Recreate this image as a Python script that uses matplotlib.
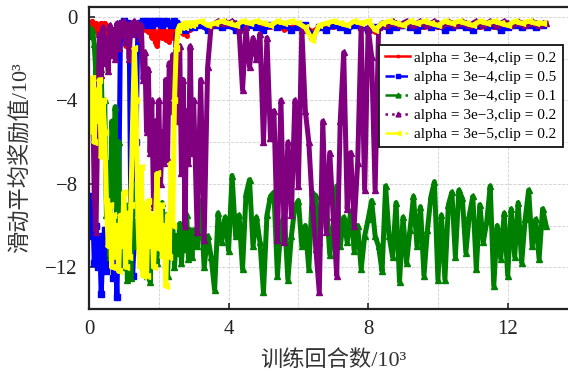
import numpy as np
import matplotlib
matplotlib.use("Agg")
import matplotlib.pyplot as plt
from matplotlib.lines import Line2D
from matplotlib.ticker import MultipleLocator

plt.rcParams['font.family'] = ['Liberation Serif', 'Noto Sans CJK SC']

# episodes in thousands: dense grid early, coarser grid later
x_early = np.arange(60) * 0.05          # 0 .. 2.95
x_late_fine = 3.0 + np.arange(102) * 0.1   # 3.0 .. 13.1
x_late_flat = 3.0 + np.arange(51) * 0.2    # 3.0 .. 13.0

# moving-average reward (x10^3)
red_early = [-0.3, -0.5, -0.2, -0.6, -0.3, -0.8, -0.4, -0.3, -0.6, -0.3,
             -0.5, -0.8, -0.5, -1.0, -0.7, -1.3, -0.6, -0.4, -0.8, -0.3,
             -0.9, -1.4, -0.5, -0.3, -0.6, -0.3, -0.5, -0.3, -0.7, -0.4,
             -0.5, -0.3, -0.6, -0.4, -0.7, -0.5, -1.0, -0.6, -1.2, -1.4,
             -0.8, -0.5, -1.0, -0.6, -1.1, -0.7, -1.2, -0.6, -1.0, -0.5,
             -0.8, -0.6, -0.5, -0.7, -0.8, -0.6, -0.9, -0.5, -0.6, -0.4]
red_late = [-0.5, -0.4, -0.6, -0.4, -0.5, -0.4, -0.5, -0.6, -0.4, -0.5,
            -0.4, -0.5, -0.4, -0.6, -0.5, -0.4, -0.5, -0.7, -0.5, -0.4,
            -0.5, -0.4, -0.5, -0.4, -0.5, -0.6, -0.7, -0.5, -0.4, -0.5,
            -0.4, -0.5, -0.4, -0.5, -0.4, -0.5, -0.4, -0.5, -0.4, -0.5,
            -0.4, -0.5, -0.4, -0.5, -0.4, -0.5, -0.4, -0.5, -0.4, -0.5, -0.4]

blue_early = [-9.0, -10.5, -8.6, -11.8, -10.0, -12.0, -10.5, -13.3, -11.0, -10.2,
              -12.2, -10.8, -11.5, -9.8, -12.5, -11.0, -13.4, -9.0, -0.9, -0.3,
              -0.2, -0.4, -0.3, -0.5, -9.8, -12.4, -10.5, -6.0, -0.4, -0.3,
              -0.3, -0.2, -0.4, -0.3, -0.2, -0.3, -0.4, -0.2, -0.3, -0.3,
              -0.2, -0.3, -0.4, -0.3, -0.2, -0.3, -0.3, -0.4, -0.3, -0.2,
              -0.3, -0.4, -0.5, -0.4, -0.5, -0.6, -0.5, -0.4, -0.5, -0.4]
blue_late = [-0.5, -0.4, -0.6, -0.4, -0.5, -0.4, -0.6, -0.5, -0.4, -0.5,
             -0.6, -0.4, -0.5, -0.4, -0.6, -0.5, -0.4, -0.9, -0.5, -0.6,
             -0.4, -0.5, -0.6, -0.4, -0.5, -0.6, -0.5, -0.4, -0.6, -0.5,
             -0.4, -0.5, -0.6, -0.4, -0.5, -0.4, -0.6, -0.5, -0.4, -0.5,
             -0.6, -0.4, -0.5, -0.4, -0.6, -0.5, -0.4, -0.5, -0.4, -0.5, -0.4]

green_early = [-0.5, -0.9, -0.6, -1.3, -2.8, -1.5, -4.5, -2.5, -6.5, -4.0,
               -9.5, -7.0, -11.5, -5.0, -9.0, -4.3, -10.0, -6.0, -11.8, -8.5,
               -12.0, -9.0, -12.6, -10.0, -12.5, -8.8, -11.0, -8.0, -10.5, -11.6,
               -9.0, -12.0, -10.0, -12.4, -9.5, -12.7, -10.5, -11.5, -9.8, -11.8,
               -10.0, -11.0, -8.9, -11.4, -9.5, -12.4, -10.2, -11.0, -9.9, -12.0,
               -10.5, -11.3, -9.9, -11.8, -10.3, -11.1, -9.5, -11.6, -10.2, -11.5]
green_late = [-10.2, -11.0, -8.8, -12.0, -10.5, -11.5, -13.1, -9.4, -10.8, -9.6,
              -11.2, -7.6, -10.5, -9.5, -12.1, -8.5, -7.8, -11.0, -9.6, -10.8,
              -13.2, -9.5, -8.6, -8.4, -12.4, -10.0, -9.5, -12.6, -10.5, -9.1,
              -8.8, -11.0, -10.0, -12.1, -8.4, -8.6, -10.8, -9.2, -8.8, -11.4,
              -10.0, -8.1, -11.0, -9.6, -10.8, -9.3, -11.2, -10.0, -12.1, -10.5,
              -9.7, -8.8, -10.5, -11.0, -12.2, -8.1, -10.5, -11.5, -8.9, -12.7,
              -9.6, -11.8, -10.2, -8.6, -11.0, -9.1, -12.4, -10.2, -8.6, -7.9,
              -12.6, -9.5, -12.6, -9.0, -8.4, -11.5, -8.3, -8.7, -11.3, -9.5,
              -8.6, -12.1, -9.0, -10.8, -9.8, -8.1, -12.9, -10.0, -11.6, -9.4,
              -12.4, -9.2, -11.5, -8.9, -11.8, -9.7, -8.3, -11.0, -9.7, -11.6,
              -9.2, -10.0]

purple_early = [-3.0, -4.2, -3.5, -8.5, -10.3, -5.0, -0.8, -2.8, -0.5, -2.2,
                -1.0, -2.6, -0.4, -1.8, -0.6, -2.0, -0.3, -1.5, -0.3, -0.8,
                -0.2, -1.2, -0.4, -2.0, -0.3, -0.8, -0.2, -0.6, -0.3, -1.0,
                -0.4, -3.0, -1.7, -5.5, -2.5, -6.5, -4.0, -9.1, -5.0, -7.5,
                -4.0, -8.0, -5.5, -7.0, -3.0, -6.8, -2.2, -4.5, -1.8, -3.0,
                -0.8, -5.0, -1.4, -7.5, -3.0, -10.0, -4.5, -7.0, -1.4, -6.5]
purple_late = [-4.0, -10.3, -3.0, -10.7, -2.4, -0.4, -0.3, -0.2, -0.3, -0.2,
               -0.3, -0.2, -0.3, -0.6, -3.5, -0.5, -2.4, -1.0, -2.0, -0.8,
               -6.0, -1.0, -5.8, -4.5, -10.7, -4.0, -10.8, -6.0, -9.5, -4.0,
               -8.1, -0.6, -4.5, -6.0, -9.0, -11.1, -13.2, -5.0, -10.3, -6.5,
               -9.6, -12.4, -5.0, -1.7, -9.2, -6.5, -10.0, -7.0, -0.5, -8.3,
               -0.5, -1.9, -8.3, -0.5, -0.3, -0.4, -0.3, -0.2, -0.3, -0.4,
               -0.3, -0.2, -0.3, -0.4, -0.3, -0.2, -0.3, -0.4, -0.3, -0.2,
               -0.3, -0.4, -0.3, -0.2, -0.3, -0.4, -0.3, -0.2, -0.3, -0.4,
               -0.3, -0.2, -0.3, -0.4, -0.3, -0.2, -0.3, -0.4, -0.3, -0.2,
               -0.3, -0.4, -0.3, -0.2, -0.3, -0.4, -0.3, -0.2, -0.3, -0.4,
               -0.3, -0.3]

yellow_early = [-3.3, -5.5, -2.9, -6.0, -3.5, -5.0, -3.0, -6.7, -4.0, -5.5,
                -8.8, -11.0, -9.0, -12.0, -9.5, -11.5, -10.0, -12.2, -9.5, -11.0,
                -8.4, -12.0, -9.4, -11.5, -9.0, -5.0, -1.5, -4.0, -9.6, -12.0,
                -7.2, -12.4, -9.0, -12.4, -8.8, -11.0, -9.5, -12.0, -10.0, -7.5,
                -11.1, -9.0, -11.5, -10.0, -12.9, -9.5, -11.5, -7.0, -10.0, -4.0,
                -1.5, -0.6, -0.4, -0.5, -0.3, -0.5, -0.3, -0.4, -0.3, -0.4]
yellow_late = [-0.3, -0.2, -0.4, -0.3, -0.2, -0.3, -0.4, -0.2, -0.3, -0.2,
               -0.3, -0.4, -0.2, -0.3, -0.2, -0.3, -0.5, -1.1, -0.4, -0.3,
               -0.2, -0.3, -0.4, -0.2, -0.3, -0.2, -0.6, -0.3, -0.2, -0.3,
               -0.4, -0.2, -0.3, -0.2, -0.3, -0.4, -0.2, -0.3, -0.2, -0.3,
               -0.4, -0.2, -0.3, -0.2, -0.3, -0.4, -0.2, -0.3, -0.2, -0.3, -0.3]

labels = ["alpha = 3e\u22124,clip = 0.2", "alpha = 3e\u22124,clip = 0.5",
          "alpha = 3e\u22124,clip = 0.1", "alpha = 3e\u22123,clip = 0.2",
          "alpha = 3e\u22125,clip = 0.2"]

fig = plt.figure(figsize=(5.68, 3.78), dpi=100)
ax = fig.add_axes([0.1567, 0.1825, 0.860, 0.800])

series = [
    (x_late_flat, red_early, red_late, 'red', '-', '.'),
    (x_late_flat, blue_early, blue_late, 'blue', '--', 's'),
    (x_late_fine, green_early, green_late, 'green', '-.', '^'),
    (x_late_fine, purple_early, purple_late, 'purple', ':', '^'),
    (x_late_flat, yellow_early, yellow_late, 'yellow', '-.', '<'),
]
handles = []
for (xl, ye, yl, c, ls, mk), lab in zip(series, labels):
    xs = np.concatenate([x_early, xl])
    ys = np.concatenate([ye, yl])
    # dense noisy traces: drawn thick so they read as bands
    ax.plot(xs, ys, color=c, linestyle='-', marker=mk, markersize=5,
            linewidth=3.6)
    handles.append(Line2D([], [], color=c, linestyle=ls, marker=mk,
                          markersize=3.5, linewidth=1.8, label=lab))

ax.set_xlim(0, 14)
ax.set_ylim(-14, 0.5)
ax.xaxis.set_major_locator(MultipleLocator(4))
ax.yaxis.set_major_locator(MultipleLocator(4))
ax.xaxis.set_minor_locator(MultipleLocator(2))
ax.yaxis.set_minor_locator(MultipleLocator(2))
ax.grid(True, which='both', linestyle='--', color='#d0d0d0', linewidth=0.6)
ax.set_axisbelow(True)
ax.tick_params(which='major', direction='in', length=4, width=1.2,
               labelsize=15, colors='#222222', pad=8)
ax.tick_params(which='minor', length=0)
for s in ax.spines.values():
    s.set_linewidth(1.6)
    s.set_color('#222222')

ax.set_xlabel("训练回合数/10³", fontsize=16, color='#333333', labelpad=8)
ax.set_ylabel("滑动平均奖励值/10³", fontsize=16, color='#333333', labelpad=10)

leg = ax.legend(handles=handles, loc='upper right',
                bbox_to_anchor=(0.970, 0.873), borderaxespad=0, fontsize=11,
                numpoints=1, fancybox=False, edgecolor='#222222',
                framealpha=1, handlelength=1.6, handletextpad=0.3,
                labelspacing=0.35, borderpad=0.4)
leg.get_frame().set_linewidth(1.4)

fig.savefig("out.png", dpi=100)
